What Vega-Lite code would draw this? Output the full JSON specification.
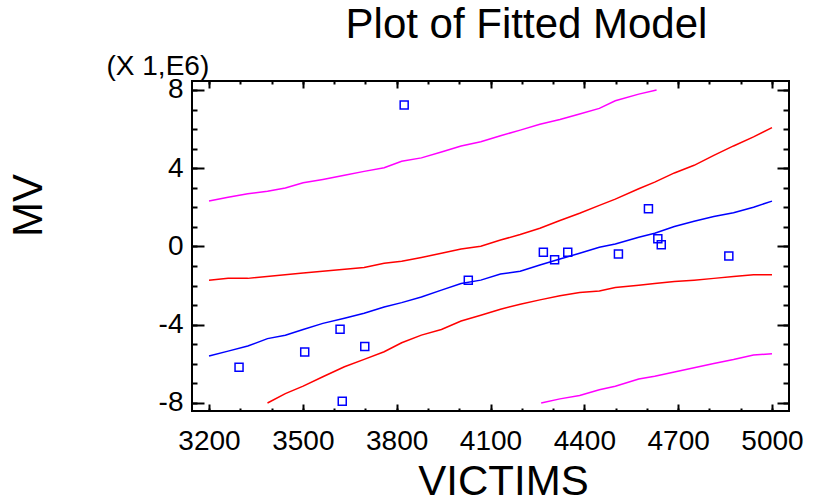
{
  "$schema": "https://vega.github.io/schema/vega-lite/v6.json",
  "width": 597,
  "height": 330,
  "autosize": {"type": "none"},
  "padding": {"left": 192, "top": 81, "right": 26, "bottom": 91},
  "title": {"text": "Plot of Fitted Model", "fontSize": 42, "font": "Liberation Sans", "fontWeight": "normal", "color": "#000000", "anchor": "middle", "dx": 36, "dy": 44, "baseline": "alphabetic", "offset": 16},
  "config": {
    "view": {"stroke": "#000000", "strokeWidth": 2},
    "font": "Liberation Sans",
    "axis": {"grid": false, "domain": false, "tickColor": "#000000", "tickWidth": 2, "labelFont": "Liberation Sans", "labelFontSize": 28, "labelColor": "#000000", "titleFont": "Liberation Sans", "titleFontWeight": "normal", "titleColor": "#000000"}
  },
  "datasets": {
    "points": [
      {"victims": 3296, "mv": -6.17},
      {"victims": 3506, "mv": -5.40},
      {"victims": 3619, "mv": -4.23},
      {"victims": 3698, "mv": -5.11},
      {"victims": 3626, "mv": -7.91},
      {"victims": 3824, "mv": 7.23},
      {"victims": 4029, "mv": -1.72},
      {"victims": 4269, "mv": -0.30},
      {"victims": 4305, "mv": -0.68},
      {"victims": 4347, "mv": -0.30},
      {"victims": 4509, "mv": -0.39},
      {"victims": 4605, "mv": 1.93},
      {"victims": 4635, "mv": 0.40},
      {"victims": 4646, "mv": 0.09},
      {"victims": 4862, "mv": -0.49}
    ],
    "fit": [
      {"victims": 3200, "mv": -5.60}, {"victims": 3261, "mv": -5.35}, {"victims": 3324, "mv": -5.09},
      {"victims": 3387, "mv": -4.71}, {"victims": 3444, "mv": -4.54}, {"victims": 3501, "mv": -4.24},
      {"victims": 3564, "mv": -3.93}, {"victims": 3633, "mv": -3.67}, {"victims": 3696, "mv": -3.41},
      {"victims": 3760, "mv": -3.09}, {"victims": 3816, "mv": -2.87}, {"victims": 3879, "mv": -2.58},
      {"victims": 3943, "mv": -2.23}, {"victims": 4006, "mv": -1.89}, {"victims": 4069, "mv": -1.72},
      {"victims": 4132, "mv": -1.41}, {"victims": 4195, "mv": -1.27}, {"victims": 4258, "mv": -0.95},
      {"victims": 4322, "mv": -0.64}, {"victims": 4385, "mv": -0.35}, {"victims": 4448, "mv": -0.04},
      {"victims": 4499, "mv": 0.13}, {"victims": 4574, "mv": 0.47}, {"victims": 4625, "mv": 0.68},
      {"victims": 4688, "mv": 1.02}, {"victims": 4751, "mv": 1.29}, {"victims": 4814, "mv": 1.53},
      {"victims": 4877, "mv": 1.72}, {"victims": 4941, "mv": 2.01}, {"victims": 5000, "mv": 2.32}
    ],
    "conf": [
      {"series": "upper", "victims": 3200, "mv": -1.72}, {"series": "upper", "victims": 3261, "mv": -1.63},
      {"series": "upper", "victims": 3324, "mv": -1.63}, {"series": "upper", "victims": 3501, "mv": -1.36},
      {"series": "upper", "victims": 3696, "mv": -1.07}, {"series": "upper", "victims": 3760, "mv": -0.86},
      {"series": "upper", "victims": 3816, "mv": -0.76}, {"series": "upper", "victims": 3879, "mv": -0.56},
      {"series": "upper", "victims": 3943, "mv": -0.35}, {"series": "upper", "victims": 4006, "mv": -0.13},
      {"series": "upper", "victims": 4069, "mv": 0.01}, {"series": "upper", "victims": 4132, "mv": 0.33},
      {"series": "upper", "victims": 4195, "mv": 0.61}, {"series": "upper", "victims": 4258, "mv": 0.93},
      {"series": "upper", "victims": 4322, "mv": 1.33}, {"series": "upper", "victims": 4385, "mv": 1.70},
      {"series": "upper", "victims": 4448, "mv": 2.10}, {"series": "upper", "victims": 4499, "mv": 2.42},
      {"series": "upper", "victims": 4574, "mv": 2.95}, {"series": "upper", "victims": 4625, "mv": 3.29},
      {"series": "upper", "victims": 4688, "mv": 3.76}, {"series": "upper", "victims": 4751, "mv": 4.15},
      {"series": "upper", "victims": 4814, "mv": 4.66}, {"series": "upper", "victims": 4877, "mv": 5.14},
      {"series": "upper", "victims": 4941, "mv": 5.60}, {"series": "upper", "victims": 5000, "mv": 6.08},
      {"series": "lower", "victims": 3387, "mv": -8.00}, {"series": "lower", "victims": 3444, "mv": -7.52},
      {"series": "lower", "victims": 3501, "mv": -7.14}, {"series": "lower", "victims": 3564, "mv": -6.66},
      {"series": "lower", "victims": 3633, "mv": -6.15}, {"series": "lower", "victims": 3696, "mv": -5.77},
      {"series": "lower", "victims": 3760, "mv": -5.38}, {"series": "lower", "victims": 3816, "mv": -4.92},
      {"series": "lower", "victims": 3879, "mv": -4.53}, {"series": "lower", "victims": 3943, "mv": -4.24},
      {"series": "lower", "victims": 4006, "mv": -3.81}, {"series": "lower", "victims": 4069, "mv": -3.52},
      {"series": "lower", "victims": 4132, "mv": -3.21}, {"series": "lower", "victims": 4195, "mv": -2.95},
      {"series": "lower", "victims": 4258, "mv": -2.73}, {"series": "lower", "victims": 4322, "mv": -2.52},
      {"series": "lower", "victims": 4385, "mv": -2.35}, {"series": "lower", "victims": 4448, "mv": -2.27},
      {"series": "lower", "victims": 4499, "mv": -2.10}, {"series": "lower", "victims": 4574, "mv": -1.98},
      {"series": "lower", "victims": 4625, "mv": -1.89}, {"series": "lower", "victims": 4688, "mv": -1.79},
      {"series": "lower", "victims": 4751, "mv": -1.72}, {"series": "lower", "victims": 4814, "mv": -1.63},
      {"series": "lower", "victims": 4877, "mv": -1.53}, {"series": "lower", "victims": 4941, "mv": -1.45},
      {"series": "lower", "victims": 5000, "mv": -1.45}
    ],
    "pred": [
      {"series": "upper", "victims": 3200, "mv": 2.32}, {"series": "upper", "victims": 3261, "mv": 2.52},
      {"series": "upper", "victims": 3324, "mv": 2.70}, {"series": "upper", "victims": 3387, "mv": 2.82},
      {"series": "upper", "victims": 3444, "mv": 2.99}, {"series": "upper", "victims": 3501, "mv": 3.26},
      {"series": "upper", "victims": 3564, "mv": 3.43}, {"series": "upper", "victims": 3633, "mv": 3.64},
      {"series": "upper", "victims": 3696, "mv": 3.84}, {"series": "upper", "victims": 3760, "mv": 4.03},
      {"series": "upper", "victims": 3816, "mv": 4.36}, {"series": "upper", "victims": 3879, "mv": 4.53},
      {"series": "upper", "victims": 3943, "mv": 4.83}, {"series": "upper", "victims": 4006, "mv": 5.14},
      {"series": "upper", "victims": 4069, "mv": 5.35}, {"series": "upper", "victims": 4132, "mv": 5.66},
      {"series": "upper", "victims": 4195, "mv": 5.95}, {"series": "upper", "victims": 4258, "mv": 6.25},
      {"series": "upper", "victims": 4322, "mv": 6.49}, {"series": "upper", "victims": 4385, "mv": 6.77},
      {"series": "upper", "victims": 4448, "mv": 7.06}, {"series": "upper", "victims": 4499, "mv": 7.45},
      {"series": "upper", "victims": 4574, "mv": 7.79}, {"series": "upper", "victims": 4631, "mv": 8.00},
      {"series": "lower", "victims": 4262, "mv": -8.00}, {"series": "lower", "victims": 4322, "mv": -7.79},
      {"series": "lower", "victims": 4385, "mv": -7.62}, {"series": "lower", "victims": 4448, "mv": -7.32},
      {"series": "lower", "victims": 4499, "mv": -7.14}, {"series": "lower", "victims": 4574, "mv": -6.77},
      {"series": "lower", "victims": 4625, "mv": -6.63}, {"series": "lower", "victims": 4688, "mv": -6.42},
      {"series": "lower", "victims": 4751, "mv": -6.20}, {"series": "lower", "victims": 4814, "mv": -5.98},
      {"series": "lower", "victims": 4877, "mv": -5.78}, {"series": "lower", "victims": 4941, "mv": -5.55},
      {"series": "lower", "victims": 5000, "mv": -5.48}
    ]
  },
  "resolve": {"axis": {"x": "independent", "y": "independent"}},
  "layer": [
    {
      "data": {"name": "pred"},
      "mark": {"type": "line", "color": "#ff00ff", "strokeWidth": 1.5},
      "encoding": {
        "x": {"field": "victims", "type": "quantitative", "scale": {"domain": [3145.6, 5054.4], "nice": false, "zero": false},
              "axis": {"orient": "bottom", "values": [3200, 3500, 3800, 4100, 4400, 4700, 5000], "labelExpr": "datum.value + ''", "tickSize": -7, "labelPadding": 23, "labelFlush": false, "labelOverlap": false,
                       "title": "VICTIMS", "titleFontSize": 42, "titleX": 311, "titleY": 83, "titleBaseline": "alphabetic", "titleAnchor": null}},
        "y": {"field": "mv", "type": "quantitative", "scale": {"domain": [-8.41, 8.46], "nice": false, "zero": false},
              "axis": {"orient": "left", "values": [-8, -4, 0, 4, 8], "labelExpr": "datum.value + ''", "tickSize": -12, "labelPadding": 21, "labelFlush": false, "labelOverlap": false,
                       "title": "MV", "titleFontSize": 42, "titleAngle": -90, "titleX": -164, "titleY": 124, "titleAlign": "center", "titleBaseline": "middle"}},
        "detail": {"field": "series"}
      }
    },
    {
      "data": {"name": "conf"},
      "mark": {"type": "line", "color": "#ff0000", "strokeWidth": 1.5},
      "encoding": {
        "x": {"field": "victims", "type": "quantitative",
              "axis": {"orient": "bottom", "values": [3200, 3300, 3400, 3500, 3600, 3700, 3800, 3900, 4000, 4100, 4200, 4300, 4400, 4500, 4600, 4700, 4800, 4900, 5000], "tickSize": -3, "labels": false, "title": null}},
        "y": {"field": "mv", "type": "quantitative",
              "axis": {"orient": "left", "values": [-8, -7, -6, -5, -4, -3, -2, -1, 0, 1, 2, 3, 4, 5, 6, 7, 8], "tickSize": -5, "labels": false,
                       "title": "(X 1,E6)", "titleFontSize": 28, "titleAngle": 0, "titleX": -86, "titleY": -7, "titleAlign": "left", "titleBaseline": "alphabetic"}},
        "detail": {"field": "series"}
      }
    },
    {
      "data": {"name": "fit"},
      "mark": {"type": "line", "color": "#0000ff", "strokeWidth": 1.5},
      "encoding": {
        "x": {"field": "victims", "type": "quantitative",
              "axis": {"orient": "top", "values": [3200, 3500, 3800, 4100, 4400, 4700, 5000], "tickSize": -7, "labels": false, "title": null}},
        "y": {"field": "mv", "type": "quantitative",
              "axis": {"orient": "right", "values": [-8, -4, 0, 4, 8], "tickSize": -12, "labels": false, "title": null}}
      }
    },
    {
      "data": {"name": "points"},
      "mark": {"type": "point", "shape": "square", "filled": false, "color": "#0000ff", "size": 64, "strokeWidth": 1.5, "opacity": 1},
      "encoding": {
        "x": {"field": "victims", "type": "quantitative",
              "axis": {"orient": "top", "values": [3200, 3300, 3400, 3500, 3600, 3700, 3800, 3900, 4000, 4100, 4200, 4300, 4400, 4500, 4600, 4700, 4800, 4900, 5000], "tickSize": -3, "labels": false, "title": null}},
        "y": {"field": "mv", "type": "quantitative",
              "axis": {"orient": "right", "values": [-8, -7, -6, -5, -4, -3, -2, -1, 0, 1, 2, 3, 4, 5, 6, 7, 8], "tickSize": -6, "labels": false, "title": null}}
      }
    }
  ]
}
